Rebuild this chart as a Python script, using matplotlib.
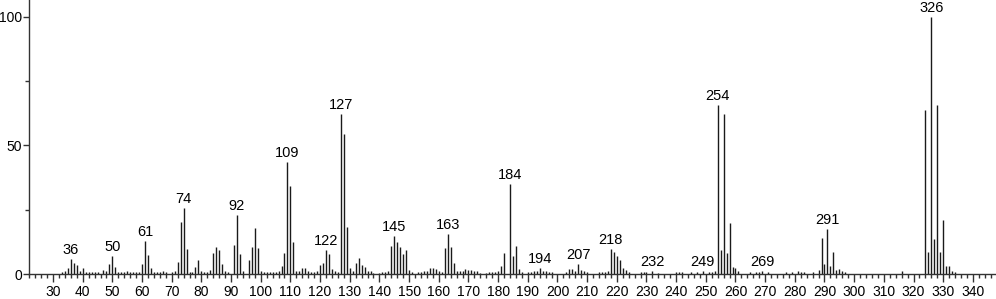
import matplotlib
matplotlib.use("Agg")
import matplotlib.pyplot as plt
from matplotlib.ticker import MultipleLocator

plt.rcParams['font.family'] = ['Liberation Sans', 'DejaVu Sans']

mz = [33, 34, 35, 36, 37, 38, 39, 40, 41, 42, 43, 44, 45, 47, 48, 49, 50, 51, 52, 53,
      54, 55, 56, 57, 58, 59, 60, 61, 62, 63, 64, 65, 66, 67, 68, 70, 71, 72, 73, 74,
      75, 76, 77, 78, 79, 80, 81, 82, 83, 84, 85, 86, 87, 88, 89, 91, 92, 93, 94, 96,
      97, 98, 99, 100, 101, 102, 103, 104, 105, 106, 107, 108, 109, 110, 111, 112, 113, 114, 115, 116,
      117, 118, 119, 120, 121, 122, 123, 124, 125, 126, 127, 128, 129, 130, 131, 132, 133, 134, 135, 136,
      137, 138, 140, 141, 142, 143, 144, 145, 146, 147, 148, 149, 150, 151, 153, 154, 155, 156, 157, 158,
      159, 160, 161, 162, 163, 164, 165, 166, 167, 168, 169, 170, 171, 172, 173, 174, 176, 177, 178, 179,
      180, 181, 182, 184, 185, 186, 187, 188, 190, 191, 192, 193, 194, 195, 196, 197, 198, 203, 204, 205,
      206, 207, 208, 209, 210, 214, 215, 216, 217, 218, 219, 220, 221, 222, 223, 224, 228, 229, 230, 232,
      234, 240, 241, 242, 245, 247, 249, 251, 252, 253, 254, 255, 256, 257, 258, 259, 260, 261, 265, 267,
      268, 269, 271, 277, 279, 281, 282, 283, 286, 288, 289, 290, 291, 292, 293, 294, 295, 296, 297, 316,
      324, 325, 326, 327, 328, 329, 330, 331, 332, 333, 334]

intensity = [0.8, 1.2, 2.2, 5.8, 4.3, 3.6, 1.0, 2.2, 0.8, 0.6, 0.8, 0.8, 0.6, 1.5, 1.0, 3.8, 6.9, 2.7, 0.8, 0.8,
             0.8, 1.0, 0.8, 0.6, 0.6, 0.8, 3.8, 12.8, 7.4, 2.3, 0.8, 0.6, 0.8, 1.2, 0.8, 0.8, 1.0, 4.5, 20.1, 25.5,
             9.7, 0.8, 0.8, 2.7, 5.4, 1.0, 0.8, 0.8, 1.5, 8.2, 10.6, 9.3, 3.9, 1.0, 0.8, 11.3, 23.0, 7.9, 1.0, 5.4,
             10.6, 17.8, 10.0, 1.0, 0.8, 0.8, 0.8, 0.8, 0.8, 1.0, 3.2, 8.2, 43.5, 34.2, 12.3, 1.0, 1.0, 2.3, 2.3, 1.0,
             0.8, 0.8, 1.2, 3.6, 4.3, 9.3, 7.9, 2.0, 1.0, 0.6, 62.3, 54.3, 18.1, 2.4, 1.2, 4.3, 6.2, 3.5, 2.6, 1.0,
             1.0, 0.5, 0.5, 0.6, 0.8, 1.0, 10.9, 14.6, 12.3, 10.5, 7.8, 9.3, 1.5, 0.8, 0.6, 0.8, 1.0, 1.2, 2.3, 2.3,
             2.0, 1.0, 0.6, 10.0, 15.5, 10.6, 4.4, 1.2, 1.0, 1.2, 1.8, 1.5, 1.5, 1.2, 1.0, 0.5, 0.5, 0.8, 0.8, 0.8,
             1.0, 3.0, 8.2, 34.9, 6.9, 10.9, 2.0, 0.6, 0.8, 0.8, 1.0, 1.2, 2.3, 1.2, 1.0, 0.8, 0.6, 0.8, 2.0, 2.0,
             1.2, 3.8, 1.5, 1.0, 0.6, 0.6, 0.8, 0.8, 1.0, 9.8, 8.5, 6.9, 5.6, 2.2, 1.5, 0.8, 0.8, 0.8, 0.8, 1.0,
             0.5, 0.8, 0.8, 0.8, 0.6, 0.6, 1.0, 0.8, 0.8, 1.0, 65.5, 9.3, 62.0, 8.1, 20.0, 2.7, 2.5, 1.0, 0.6, 0.8,
             0.8, 1.0, 0.6, 0.8, 0.8, 1.0, 0.8, 0.8, 0.6, 1.5, 14.0, 4.0, 17.6, 3.0, 8.4, 1.5, 2.0, 1.0, 0.8, 1.0,
             63.7, 8.7, 100.0, 13.6, 65.7, 8.5, 21.0, 3.0, 3.3, 1.0, 0.8]

labeled = [36, 50, 61, 74, 92, 109, 122, 127, 145, 163, 184, 194, 207, 218, 232, 249,
           254, 269, 291, 326]

x_ticks = list(range(30, 341, 10))
y_ticks = [0, 50, 100]

fig = plt.figure(figsize=(9.96, 2.99), dpi=100)
ax = fig.add_axes([29 / 996, 25 / 299, 967 / 996, 274 / 299])

ax.vlines(mz, 0, intensity, colors='#1a1a1a', linewidth=1.0)

lookup = dict(zip(mz, intensity))
for m in labeled:
    ax.annotate(str(m), xy=(m, lookup[m]), xytext=(0, 1.5), textcoords='offset points',
                ha='center', va='bottom', fontsize=10.5, color='black')

ax.set_xlim(21.9, 347.8)
ax.set_ylim(0, 106.5)

ax.set_xticks(x_ticks)
ax.xaxis.set_minor_locator(MultipleLocator(2))
ax.set_yticks(y_ticks)
ax.yaxis.set_minor_locator(MultipleLocator(25))

ax.tick_params(axis='x', which='major', length=6, width=1, direction='out', labelsize=10, pad=2, color='#333333')
ax.tick_params(axis='x', which='minor', length=3, width=1, direction='out', color='#333333')
ax.tick_params(axis='y', which='major', length=4, width=1, direction='out', labelsize=10, pad=1, color='#333333')
ax.tick_params(axis='y', which='minor', length=3, width=1, direction='out', color='#333333')

for s in ['top', 'right']:
    ax.spines[s].set_visible(False)
for s in ['left', 'bottom']:
    ax.spines[s].set_linewidth(1.0)
    ax.spines[s].set_color('#333333')

fig.savefig('out.png', dpi=100)
